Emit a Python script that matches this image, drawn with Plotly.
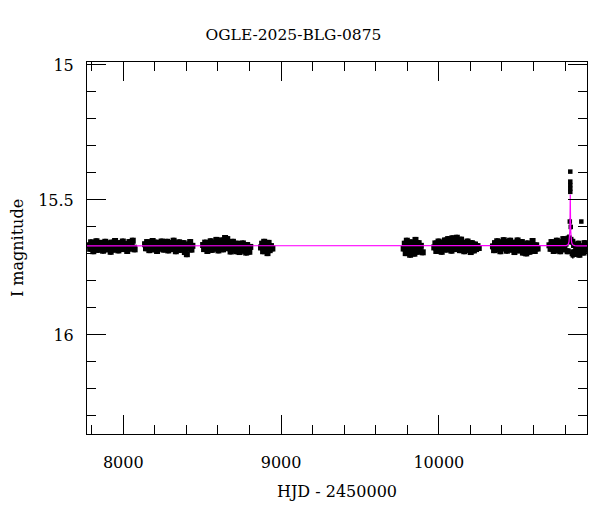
import plotly.graph_objects as go

# ---------------- data ----------------
s1_t = [7783, 7790, 7796, 7803, 7810, 7817, 7824, 7830, 7838, 7845, 7851, 7858, 7866, 7872, 7879,
        7886, 7893, 7900, 7907, 7914, 7920, 7928, 7935, 7941, 7948, 7955, 7962, 7969, 7976, 7983,
        7990, 7997, 8004, 8011, 8018, 8025, 8032, 8039, 8046, 8053, 8060, 8067, 8072]
s1_m = [15.668, 15.681, 15.657, 15.674, 15.690, 15.662, 15.677, 15.653, 15.685, 15.666, 15.679,
        15.659, 15.672, 15.688, 15.664, 15.655, 15.683, 15.670, 15.661, 15.676, 15.692, 15.658,
        15.669, 15.684, 15.652, 15.673, 15.665, 15.687, 15.660, 15.678, 15.667, 15.654, 15.682,
        15.671, 15.663, 15.689, 15.675, 15.656, 15.680, 15.666, 15.651, 15.677, 15.683]

s2_t = [8138, 8144, 8151, 8159, 8165, 8172, 8180, 8186, 8193, 8201, 8207, 8214, 8222, 8228, 8235,
        8243, 8249, 8256, 8264, 8270, 8277, 8285, 8291, 8298, 8306, 8312, 8319, 8327, 8333, 8340,
        8348, 8354, 8361, 8369, 8375, 8382, 8390, 8396, 8403, 8411, 8417, 8424, 8432, 8438]
s2_m = [15.664, 15.679, 15.656, 15.671, 15.686, 15.660, 15.675, 15.652, 15.683, 15.667, 15.658,
        15.689, 15.673, 15.661, 15.680, 15.654, 15.669, 15.684, 15.663, 15.677, 15.655, 15.687,
        15.670, 15.659, 15.682, 15.666, 15.651, 15.676, 15.690, 15.662, 15.674, 15.657, 15.685,
        15.668, 15.680, 15.660, 15.693, 15.671, 15.701, 15.665, 15.679, 15.656, 15.684, 15.670]

s3_t = [8506, 8512, 8519, 8527, 8533, 8540, 8548, 8554, 8561, 8569, 8575, 8582, 8590, 8596, 8603,
        8611, 8617, 8624, 8632, 8638, 8645, 8653, 8659, 8666, 8674, 8680, 8687, 8695, 8701, 8708,
        8716, 8722, 8729, 8737, 8743, 8750, 8758, 8764, 8771, 8779, 8785, 8792, 8799, 8805]
s3_m = [15.667, 15.682, 15.658, 15.674, 15.689, 15.661, 15.677, 15.653, 15.685, 15.670, 15.659,
        15.680, 15.648, 15.672, 15.687, 15.657, 15.676, 15.650, 15.683, 15.664, 15.641, 15.668,
        15.645, 15.679, 15.660, 15.691, 15.671, 15.655, 15.684, 15.666, 15.690, 15.662, 15.678,
        15.693, 15.669, 15.684, 15.661, 15.688, 15.673, 15.695, 15.667, 15.681, 15.692, 15.674]

s4_t = [8873, 8880, 8886, 8893, 8900, 8907, 8914, 8921, 8928, 8936, 8945]
s4_m = [15.676, 15.662, 15.690, 15.655, 15.683, 15.668, 15.697, 15.659, 15.686, 15.671, 15.680]

s5_t = [9777, 9784, 9790, 9797, 9804, 9811, 9818, 9824, 9831, 9838, 9845, 9852, 9859, 9865, 9872,
        9879, 9886, 9898]
s5_m = [15.680, 15.662, 15.697, 15.651, 15.688, 15.671, 15.703, 15.657, 15.684, 15.666, 15.699,
        15.648, 15.679, 15.692, 15.660, 15.686, 15.670, 15.694]

s6_t = [9971, 9978, 9984, 9991, 9998, 10005, 10012, 10018, 10025, 10032, 10039, 10046, 10052,
        10059, 10066, 10073, 10080, 10086, 10093, 10100, 10107, 10114, 10120, 10127, 10134, 10141,
        10148, 10154, 10161, 10168, 10175, 10182, 10188, 10195, 10202, 10209, 10216, 10222, 10229,
        10236, 10245, 10253]
s6_m = [15.676, 15.661, 15.689, 15.668, 15.654, 15.681, 15.665, 15.692, 15.658, 15.673, 15.650,
        15.684, 15.663, 15.645, 15.677, 15.656, 15.688, 15.642, 15.670, 15.648, 15.682, 15.640,
        15.666, 15.652, 15.686, 15.647, 15.674, 15.659, 15.690, 15.662, 15.679, 15.654, 15.685,
        15.668, 15.693, 15.660, 15.677, 15.687, 15.665, 15.682, 15.671, 15.678]

s7_t = [10343, 10350, 10356, 10363, 10370, 10377, 10384, 10390, 10397, 10404, 10411, 10418, 10424,
        10431, 10438, 10445, 10452, 10458, 10465, 10472, 10479, 10486, 10492, 10499, 10506, 10513,
        10520, 10526, 10533, 10540, 10547, 10554, 10560, 10567, 10574, 10581, 10588, 10594, 10601,
        10608, 10617, 10626]
s7_m = [15.672, 15.686, 15.660, 15.677, 15.653, 15.683, 15.667, 15.690, 15.657, 15.674, 15.649,
        15.680, 15.664, 15.688, 15.655, 15.671, 15.651, 15.684, 15.662, 15.678, 15.693, 15.658,
        15.675, 15.650, 15.687, 15.666, 15.681, 15.656, 15.695, 15.669, 15.684, 15.698, 15.661,
        15.679, 15.692, 15.664, 15.686, 15.652, 15.676, 15.689, 15.668, 15.680]

s8_t = [10701, 10708, 10714, 10721, 10728, 10735, 10742, 10748, 10755, 10762, 10769, 10776, 10782,
        10789, 10796, 10803, 10810, 10816, 10822, 10846, 10851, 10857, 10863, 10870, 10877, 10884,
        10891, 10897, 10910, 10917, 10924, 10931, 10936]
s8_m = [15.668, 15.681, 15.656, 15.674, 15.689, 15.660, 15.677, 15.651, 15.685, 15.665, 15.690,
        15.657, 15.672, 15.645, 15.683, 15.662, 15.648, 15.690, 15.652, 15.655, 15.694, 15.667,
        15.700, 15.676, 15.689, 15.662, 15.703, 15.681, 15.672, 15.695, 15.660, 15.684, 15.675]

base_err = 0.011

peak_t = [10818, 10827, 10830, 10833, 10833, 10833, 10833, 10833, 10836, 10839, 10843, 10849, 10903]
peak_m = [15.640, 15.640, 15.580, 15.470, 15.458, 15.445, 15.432, 15.395, 15.600, 15.645, 15.700,
          15.705, 15.580]
peak_e = [0.012, 0.012, 0.010, 0.006, 0.006, 0.006, 0.006, 0.004, 0.010, 0.012, 0.012, 0.012, 0.006]

model_t = [7770, 10790, 10805, 10815, 10821, 10825, 10828, 10830, 10831.5, 10833, 10834.5, 10836,
           10838, 10841, 10845, 10851, 10861, 10876, 10940]
model_m = [15.670, 15.670, 15.669, 15.667, 15.663, 15.655, 15.640, 15.615, 15.565, 15.480, 15.565,
           15.615, 15.640, 15.655, 15.663, 15.667, 15.669, 15.670, 15.670]

title_text = "OGLE-2025-BLG-0875"
x_label = "HJD - 2450000"
y_label = "I magnitude"

# ---------------- figure ----------------
all_t = s1_t + s2_t + s3_t + s4_t + s5_t + s6_t + s7_t + s8_t
all_m = s1_m + s2_m + s3_m + s4_m + s5_m + s6_m + s7_m + s8_m

FONT = "DejaVu Serif"
W, H = 592, 504   # page body has an 8px margin

fig = go.Figure()
fig.add_trace(go.Scatter(
    x=all_t, y=all_m, mode="markers",
    marker=dict(symbol="square", size=6, color="black", line=dict(width=0)),
    error_y=dict(type="constant", value=base_err, color="black", thickness=2.5, width=0),
    showlegend=False, hoverinfo="skip"))
fig.add_trace(go.Scatter(
    x=peak_t, y=peak_m, mode="markers",
    marker=dict(symbol="square", size=4.5, color="black", line=dict(width=0)),
    error_y=dict(type="data", array=peak_e, color="black", thickness=1.5, width=0),
    showlegend=False, hoverinfo="skip"))
fig.add_trace(go.Scatter(
    x=model_t, y=model_m, mode="lines",
    line=dict(color="#ff00ff", width=1.2),
    showlegend=False, hoverinfo="skip"))

axis_common = dict(
    showline=True, linecolor="black", linewidth=1, mirror="allticks",
    ticks="inside", ticklen=19, tickwidth=1, tickcolor="black",
    showgrid=False, zeroline=False, automargin=False,
    tickfont=dict(family=FONT, size=16, color="black"),
)

fig.update_xaxes(
    range=[7770, 10939], tickmode="linear", tick0=0, dtick=1000, tickformat="d",
    minor=dict(tick0=0, dtick=200, ticks="inside", ticklen=9, tickcolor="black", showgrid=False),
    title=dict(text=x_label, font=dict(family=FONT, size=16, color="black"), standoff=14),
    ticklabelstandoff=14,
    **axis_common)
fig.update_yaxes(
    range=[16.367, 14.989], tickmode="linear", tick0=0, dtick=0.5,
    minor=dict(tick0=0, dtick=0.1, ticks="inside", ticklen=9, tickcolor="black", showgrid=False),
    title=dict(text=y_label, font=dict(family=FONT, size=16, color="black"), standoff=10),
    ticklabelstandoff=9,
    **axis_common)

fig.update_layout(
    width=W, height=H,
    margin=dict(l=79, r=13, t=54, b=78),
    paper_bgcolor="white", plot_bgcolor="white",
    title=dict(text=title_text, xref="container", x=(293.5 - 8) / W, xanchor="center",
               yref="container", y=1 - (35 - 8) / H, yanchor="middle",
               font=dict(family=FONT, size=15.5, color="black")),
)

fig.write_html("out.html")
